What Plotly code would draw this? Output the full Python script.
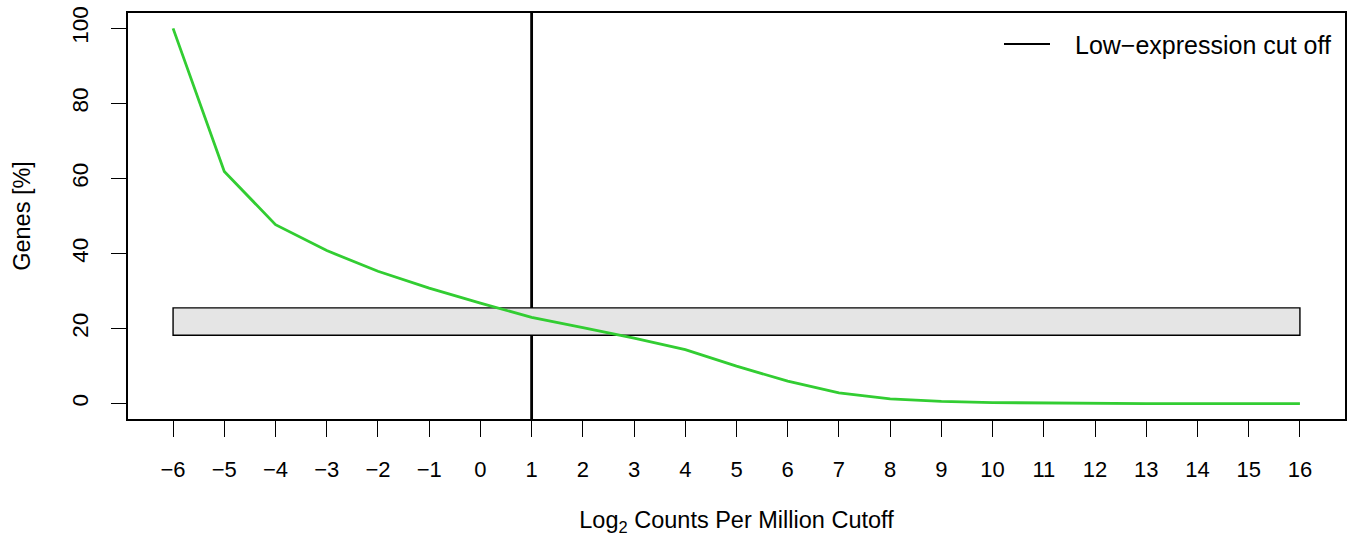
import plotly.graph_objects as go

# Percentage of genes retained at each log2-CPM cutoff
cpm_cutoffs = list(range(-6, 17))
genes_pct = [100.0, 61.9, 47.7, 40.8, 35.3, 30.8, 26.8, 23.0, 20.3, 17.5, 14.4,
             10.0, 6.0, 2.9, 1.3, 0.6, 0.3, 0.15, 0.08, 0.04, 0.02, 0.01, 0.0]

# Chosen low-expression cut off and the target band of genes
cutoff_value = 1
band_low = 18.24
band_high = 25.53

FONT = "Liberation Sans, Arial, Helvetica, sans-serif"

fig = go.Figure()

fig.add_trace(go.Scatter(
    x=cpm_cutoffs, y=genes_pct, mode="lines",
    line=dict(color="#32CD32", width=2.8),
    showlegend=False, hoverinfo="x+y",
))

# Target band
fig.add_shape(type="rect", xref="x", yref="y",
              x0=cpm_cutoffs[0], x1=cpm_cutoffs[-1], y0=band_low, y1=band_high,
              fillcolor="#E5E5E5", line=dict(color="#000000", width=1.4),
              layer="below")
# Cut off line
fig.add_shape(type="line", xref="x", yref="paper",
              x0=cutoff_value, x1=cutoff_value, y0=0, y1=1,
              line=dict(color="#000000", width=2.8), layer="below")

# Legend (top right)
fig.add_shape(type="line", xref="paper", yref="paper",
              x0=(1004 - 128) / 1217, x1=(1050 - 128) / 1217,
              y0=(419 - 44) / 406, y1=(419 - 44) / 406,
              line=dict(color="#000000", width=2.2))
fig.add_annotation(xref="paper", yref="paper",
                   x=(1073 - 128) / 1217, y=(419 - 45) / 406,
                   xanchor="left", yanchor="middle", showarrow=False,
                   text="Low\u2212expression cut off",
                   font=dict(family=FONT, size=25, color="#000000"))

fig.update_xaxes(
    range=[-6.88, 16.88],
    tickmode="array", tickvals=cpm_cutoffs,
    ticktext=[str(v).replace("-", "\u2212") for v in cpm_cutoffs],
    ticks="outside", ticklen=16, tickwidth=1.3, tickcolor="#000000",
    ticklabelstandoff=14,
    showline=True, mirror=True, linecolor="#000000", linewidth=1.5,
    showgrid=False, zeroline=False,
    tickfont=dict(family=FONT, size=22, color="#000000"),
    title=dict(text="Log<sub>2</sub> Counts Per Million Cutoff", standoff=30,
               font=dict(family=FONT, size=23.5, color="#000000")),
)
fig.update_yaxes(
    range=[-4.07, 104.1],
    tickmode="array", tickvals=[0, 20, 40, 60, 80, 100],
    ticks="outside", ticklen=15, tickwidth=1.3, tickcolor="#000000",
    tickangle=-90, ticklabelstandoff=14,
    showline=True, mirror=True, linecolor="#000000", linewidth=1.5,
    showgrid=False, zeroline=False,
    tickfont=dict(family=FONT, size=22.5, color="#000000"),
    title=dict(text="Genes [%]", standoff=31,
               font=dict(family=FONT, size=23.5, color="#000000")),
)

fig.update_layout(
    width=1348, height=538,
    margin=dict(l=128, r=3, t=13, b=119, autoexpand=False),
    plot_bgcolor="#FFFFFF", paper_bgcolor="#FFFFFF",
    font=dict(family=FONT, color="#000000"),
)

fig.write_html("out.html")
